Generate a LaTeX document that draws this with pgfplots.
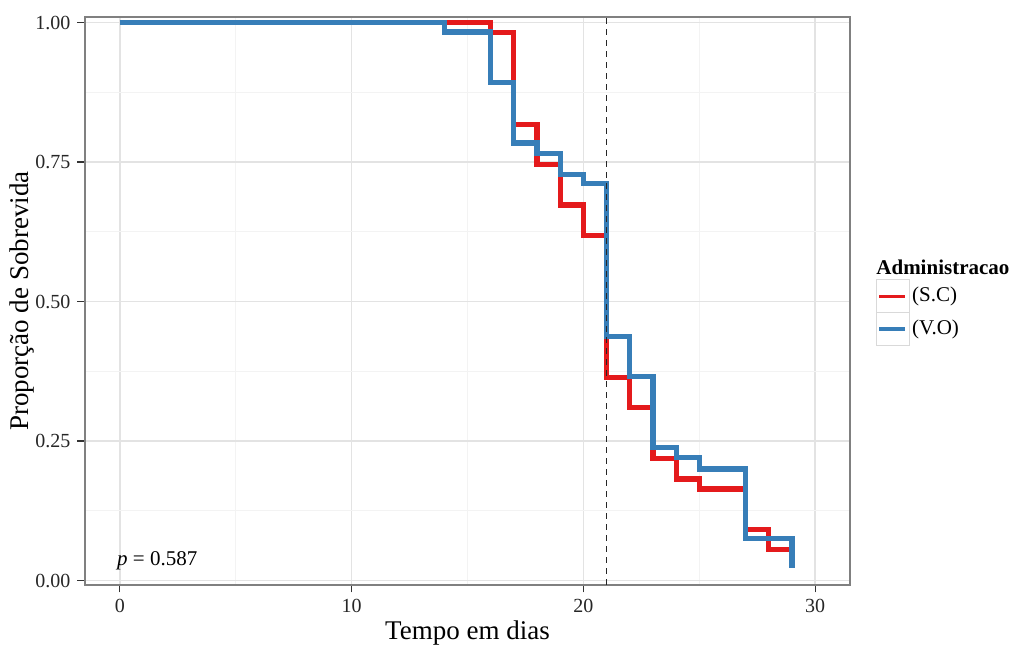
\documentclass[border=0pt]{standalone}
\usepackage{pgfplots}
\pgfplotsset{compat=1.18}
\usepackage{fontspec}
\setmainfont{Liberation Serif}

\definecolor{scred}{HTML}{E41A1C}
\definecolor{voblue}{HTML}{377EB8}
\definecolor{gridmaj}{HTML}{E3E3E3}
\definecolor{gridmin}{HTML}{F3F3F3}

\begin{document}
\begin{tikzpicture}
\begin{axis}[
scale only axis,
width=382.5pt, height=284pt,
xmin=-1.5, xmax=31.5,
ymin=-0.008, ymax=1.010,
xtick={0,10,20,30},
ytick={0,0.25,0.5,0.75,1},
yticklabels={0.00,0.25,0.50,0.75,1.00},
minor xtick={5,15,25},
minor ytick={0.125,0.375,0.625,0.875},
grid=both,
major grid style={gridmaj, line width=0.75pt},
minor grid style={gridmin, line width=0.4pt},
axis line style={black!50, line width=0.6pt},
tick align=outside,
xtick pos=lower, ytick pos=left,
major tick length=3.75pt,
minor tick length=0pt,
major tick style={black!80, line width=0.6pt},
/pgf/number format/assume math mode=true,
ticklabel style={font=\fontsize{10}{12}\selectfont, text=black!85},
xlabel={Tempo em dias},
ylabel={Proporção de Sobrevida},
label style={font=\fontsize{13.5}{16}\selectfont},
xlabel style={at={(axis description cs:0.5,-0.0845)}, anchor=center},
ylabel style={at={(axis description cs:-0.0824,0.5)}, anchor=center},
]

% (S.C)
\addplot[scred, line width=2.6pt, const plot, line join=miter] coordinates {
(0,1) (16,0.982) (17,0.818) (18,0.745) (19,0.673) (20,0.618)
(21,0.364) (22,0.310) (23,0.219) (24,0.182) (25,0.164)
(27,0.092) (28,0.056) (29,0.056)
};

% (V.O)
\addplot[voblue, line width=2.6pt, const plot, line join=miter] coordinates {
(0,1) (14,0.983) (16,0.893) (17,0.784) (18,0.766) (19,0.728) (20,0.711)
(21,0.438) (22,0.366) (23,0.238) (24,0.220) (25,0.200)
(27,0.075) (29,0.022)
};

\addplot[black!85, line width=0.7pt, dash pattern=on 3pt off 2.5pt] coordinates {(21,-0.008) (21,1.010)};

\node[anchor=west, inner sep=0pt, font=\fontsize{10.5}{12}\selectfont] at (axis cs:-0.13,0.035) {\textit{p} = 0.587};
\end{axis}

% legend, in pixel units from the panel's top left corner
\begin{scope}[shift={(current axis.north west)}, x=0.5pt, y=-0.5pt]
\node[anchor=west, inner sep=0pt, font=\fontsize{10.5}{12}\selectfont\bfseries] at (791,250) {Administracao};
\draw[black!15, fill=white, line width=0.5pt] (791,263) rectangle (824,295.7);
\draw[black!15, fill=white, line width=0.5pt] (791,295.7) rectangle (824,329);
\draw[scred, line width=1.8pt] (794,279.7) -- (820,279.7);
\draw[voblue, line width=1.8pt] (794,312.3) -- (820,312.3);
\node[anchor=west, inner sep=0pt, font=\fontsize{10.5}{12}\selectfont] at (826.7,279.7) {(S.C)};
\node[anchor=west, inner sep=0pt, font=\fontsize{10.5}{12}\selectfont] at (826.7,312.3) {(V.O)};
\path (-85,-17) rectangle (925,629);
\end{scope}
\end{tikzpicture}
\end{document}
